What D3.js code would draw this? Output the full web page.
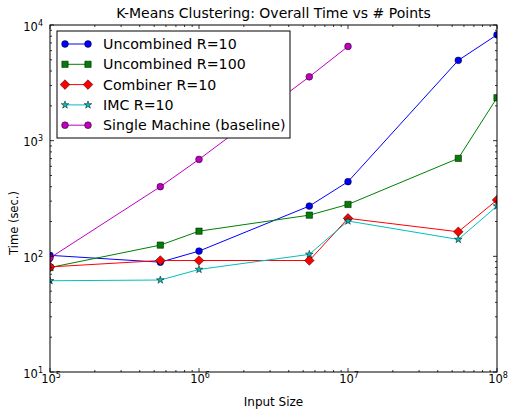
<!DOCTYPE html>
<html>
<head>
<meta charset="utf-8">
<script src="https://cdn.jsdelivr.net/npm/d3@7"></script>
<style>
  body { margin: 0; background: #fff; }
  text { font-family: "DejaVu Sans", sans-serif; fill: #000; }
</style>
</head>
<body>
<div id="chart"></div>
<script>
// data
var inputSizes = [1e5, 5.5e5, 1e6, 5.5e6, 1e7, 5.5e7, 1e8];
var uncombined10  = [102, 89, 111, 272, 442, 4950, 8230];
var uncombined100 = [80, 125, 165, 227, 281, 703, 2350];
var combiner10    = [81, 92, 92, 92, 213, 163, 307];
var imc10         = [61.5, 62.4, 77, 104, 202, 140, 272];
var singleMachine = [97, 400, 689, 3566, 6530];
var xTicks = [5, 6, 7, 8];
var yTicks = [1, 2, 3, 4];

var series = [
    {name: "Uncombined R=10", values: uncombined10, color: "#0000ff", marker: "circle"},
    {name: "Uncombined R=100", values: uncombined100, color: "#008000", marker: "square"},
    {name: "Combiner R=10", values: combiner10, color: "#ff0000", marker: "diamond"},
    {name: "IMC R=10", values: imc10, color: "#00bfbf", marker: "star"},
    {name: "Single Machine (baseline)", values: singleMachine, color: "#bf00bf", marker: "circle"}
];

// set the dimensions and margins of the graph
var margin = {top: 25, right: 11, bottom: 40, left: 50},
    width = 508 - margin.left - margin.right,
    height = 412 - margin.top - margin.bottom;

var x = d3.scaleLog().domain([1e5, 1e8]).range([0, width]);
var y = d3.scaleLog().domain([10, 1e4]).range([height, 0]);

var svg = d3.select("#chart").append("svg")
    .attr("width", 508)
    .attr("height", 412)
    .append("g")
    .attr("transform", "translate(" + margin.left + "," + margin.top + ")");

svg.append("defs").append("clipPath").attr("id", "clip")
    .append("rect").attr("width", width).attr("height", height);

function markerPath(type) {
    if (type === "circle") return d3.symbol(d3.symbolCircle, 36)();
    if (type === "square") return d3.symbol(d3.symbolSquare, 40)();
    if (type === "diamond") return "M0,-4.8L4.8,0L0,4.8L-4.8,0Z";
    return d3.symbol(d3.symbolStar, 18)();
}

var line = d3.line()
    .x(function(d, i) { return x(inputSizes[i]); })
    .y(function(d) { return y(d); });

var plot = svg.append("g").attr("clip-path", "url(#clip)");

series.forEach(function(s) {
    plot.append("path")
        .datum(s.values)
        .attr("fill", "none")
        .attr("stroke", s.color)
        .attr("stroke-width", 1)
        .attr("d", line);
    plot.selectAll(null)
        .data(s.values)
        .enter().append("path")
        .attr("transform", function(d, i) { return "translate(" + x(inputSizes[i]) + "," + y(d) + ")"; })
        .attr("d", markerPath(s.marker))
        .attr("fill", s.color)
        .attr("stroke", "#000")
        .attr("stroke-width", 0.5);
});

// ticks, inside, on all four sides
function minorList(lo, hi) {
    var out = [];
    for (var e = lo; e < hi; e++) {
        for (var m = 2; m < 10; m++) out.push(m * Math.pow(10, e));
    }
    return out;
}
var xMajor = xTicks.map(function(e) { return Math.pow(10, e); });
var yMajor = yTicks.map(function(e) { return Math.pow(10, e); });
var xMinor = minorList(5, 8);
var yMinor = minorList(1, 4);

var ticks = svg.append("g").attr("stroke", "#000").attr("stroke-width", 0.8);
function vTicks(vals, len) {
    vals.forEach(function(v) {
        ticks.append("line").attr("x1", x(v)).attr("x2", x(v)).attr("y1", height).attr("y2", height - len);
        ticks.append("line").attr("x1", x(v)).attr("x2", x(v)).attr("y1", 0).attr("y2", len);
    });
}
function hTicks(vals, len) {
    vals.forEach(function(v) {
        ticks.append("line").attr("y1", y(v)).attr("y2", y(v)).attr("x1", 0).attr("x2", len);
        ticks.append("line").attr("y1", y(v)).attr("y2", y(v)).attr("x1", width).attr("x2", width - len);
    });
}
vTicks(xMajor, 4); vTicks(xMinor, 2);
hTicks(yMajor, 4); hTicks(yMinor, 2);

// frame
svg.append("rect")
    .attr("width", width).attr("height", height)
    .attr("fill", "none").attr("stroke", "#000").attr("stroke-width", 1);

// tick labels
xTicks.forEach(function(e) {
    var t = svg.append("text")
        .attr("x", x(Math.pow(10, e)) + 1)
        .attr("y", height + 11)
        .attr("text-anchor", "middle")
        .style("font-size", "11.5px");
    t.append("tspan").text("10");
    t.append("tspan").attr("dy", -5).style("font-size", "8px").text(e);
});
yTicks.forEach(function(e) {
    var t = svg.append("text")
        .attr("x", -7)
        .attr("y", y(Math.pow(10, e)) + 5.5)
        .attr("text-anchor", "end")
        .style("font-size", "11.5px");
    t.append("tspan").text("10");
    t.append("tspan").attr("dy", -5).style("font-size", "8px").text(e);
});

// axis labels
svg.append("text")
    .attr("x", width / 2)
    .attr("y", height + 34)
    .attr("text-anchor", "middle")
    .style("font-size", "12px")
    .text("Input Size");

svg.append("text")
    .attr("transform", "rotate(-90)")
    .attr("x", -198)
    .attr("y", -32)
    .attr("text-anchor", "middle")
    .style("font-size", "11.5px")
    .text("Time (sec.)");

// title
svg.append("text")
    .attr("x", width / 2)
    .attr("y", -7)
    .attr("text-anchor", "middle")
    .style("font-size", "14px")
    .text("K-Means Clustering: Overall Time vs # Points");

// legend
var legend = svg.append("g").attr("transform", "translate(7,6)");
legend.append("rect")
    .attr("width", 233).attr("height", 107)
    .attr("fill", "#fff").attr("stroke", "#000").attr("stroke-width", 1);

series.forEach(function(s, i) {
    var ly = 13 + i * 20.3;
    legend.append("line")
        .attr("x1", 8).attr("x2", 31).attr("y1", ly).attr("y2", ly)
        .attr("stroke", s.color).attr("stroke-width", 1);
    [8, 31].forEach(function(lx) {
        legend.append("path")
            .attr("transform", "translate(" + lx + "," + ly + ")")
            .attr("d", markerPath(s.marker))
            .attr("fill", s.color)
            .attr("stroke", "#000")
            .attr("stroke-width", 0.5);
    });
    legend.append("text")
        .attr("x", 46)
        .attr("y", ly + 5)
        .style("font-size", "14.2px")
        .text(s.name);
});
</script>
</body>
</html>
